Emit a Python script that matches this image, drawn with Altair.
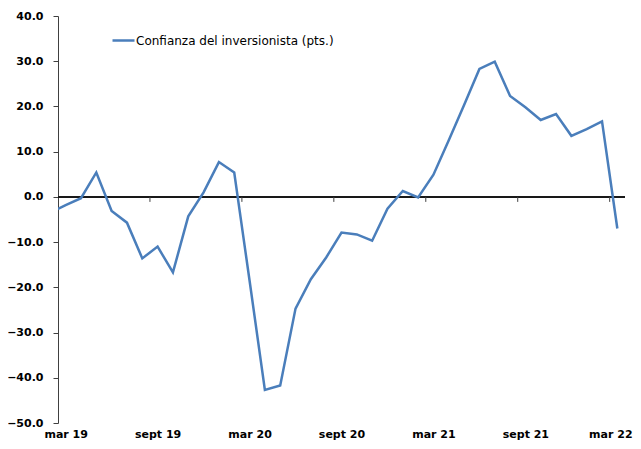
import altair as alt
import pandas as pd

# Monthly investor confidence (pts.), feb 19 (partly visible at the left edge) to mar 22
months = ["feb 19", "mar 19", "abr 19", "may 19", "jun 19", "jul 19", "ago 19", "sept 19",
          "oct 19", "nov 19", "dic 19", "ene 20", "feb 20", "mar 20", "abr 20", "may 20",
          "jun 20", "jul 20", "ago 20", "sept 20", "oct 20", "nov 20", "dic 20", "ene 21",
          "feb 21", "mar 21", "abr 21", "may 21", "jun 21", "jul 21", "ago 21", "sept 21",
          "oct 21", "nov 21", "dic 21", "ene 22", "feb 22", "mar 22"]
values = [-3.5, -1.8, -0.3, 5.4, -3.1, -5.7, -13.6, -11.0,
          -16.7, -4.3, 1.0, 7.7, 5.4, -18.5, -42.7, -41.7,
          -24.7, -18.2, -13.4, -7.9, -8.3, -9.7, -2.6, 1.3,
          -0.1, 4.9, 12.5, 20.3, 28.3, 29.9, 22.3, 19.8,
          17.0, 18.3, 13.5, 15.0, 16.7, -7.0]
series_name = "Confianza del inversionista (pts.)"

tick_labels = ["mar 19", "sept 19", "mar 20", "sept 20", "mar 21", "sept 21", "mar 22"]
label_positions = [0, 6, 12, 18, 24, 30, 36]
tick_positions = [5.5, 11.5, 17.5, 23.5, 29.5, 35.5]
y_ticks = [-50, -40, -30, -20, -10, 0, 10, 20, 30, 40]

df = pd.DataFrame({
    "mes": months,
    "idx": list(range(-1, len(months) - 1)),
    "valor": values,
    "serie": [series_name] * len(months),
})
ticks_df = pd.DataFrame({"t": tick_positions})

label_array = "[" + ",".join("'%s'" % s for s in tick_labels) + "]"

x_scale = alt.Scale(domain=[-0.5, 36.5], nice=False, zero=False)
y_scale = alt.Scale(domain=[-50, 40], nice=False, zero=False)

line = alt.Chart(df).mark_line(clip=True, strokeWidth=2.5).encode(
    x=alt.X("idx:Q", scale=x_scale,
            axis=alt.Axis(values=label_positions, labelExpr=label_array + "[round(datum.value/6)]",
                          ticks=False, domain=False, grid=False, title=None,
                          labelFont="DejaVu Sans", labelFontWeight="bold", labelFontSize=11,
                          labelColor="black", labelPadding=5, labelFlush=False,
                          labelOverlap=False,
                          labelOffset=alt.condition("datum.value == 36", alt.value(-7), alt.value(0)))),
    y=alt.Y("valor:Q", scale=y_scale,
            axis=alt.Axis(values=y_ticks, format=".1f", grid=False, title=None,
                          labelFont="DejaVu Sans", labelFontWeight="bold", labelFontSize=11,
                          labelColor="black", tickSize=5, tickColor="#404040",
                          domainColor="#404040", labelPadding=10)),
    color=alt.Color("serie:N", scale=alt.Scale(range=["#4a7ebb"]),
                    legend=alt.Legend(title=None, orient="none", legendX=53, legendY=12,
                                      symbolType="stroke", symbolSize=484, symbolStrokeWidth=2.5,
                                      labelFont="DejaVu Sans", labelFontSize=12, labelColor="black",
                                      labelOffset=0, padding=0, labelLimit=0)),
)

zero = alt.Chart(df).mark_rule(color="#1a1a1a", strokeWidth=1).encode(y=alt.datum(0))

ticks = alt.Chart(ticks_df).mark_rule(color="#404040", strokeWidth=1, y2Offset=5).encode(
    x=alt.X("t:Q", scale=x_scale), y=alt.datum(0), y2=alt.datum(0)
)

chart = alt.layer(zero, ticks, line).properties(
    width=567, height=407,
    autosize=alt.AutoSizeParams(type="none"),
    padding={"left": 50, "top": 8, "right": 8, "bottom": 17},
).configure_view(stroke=None)

chart.save("out.html", embed_options={"renderer": "svg", "actions": False})
